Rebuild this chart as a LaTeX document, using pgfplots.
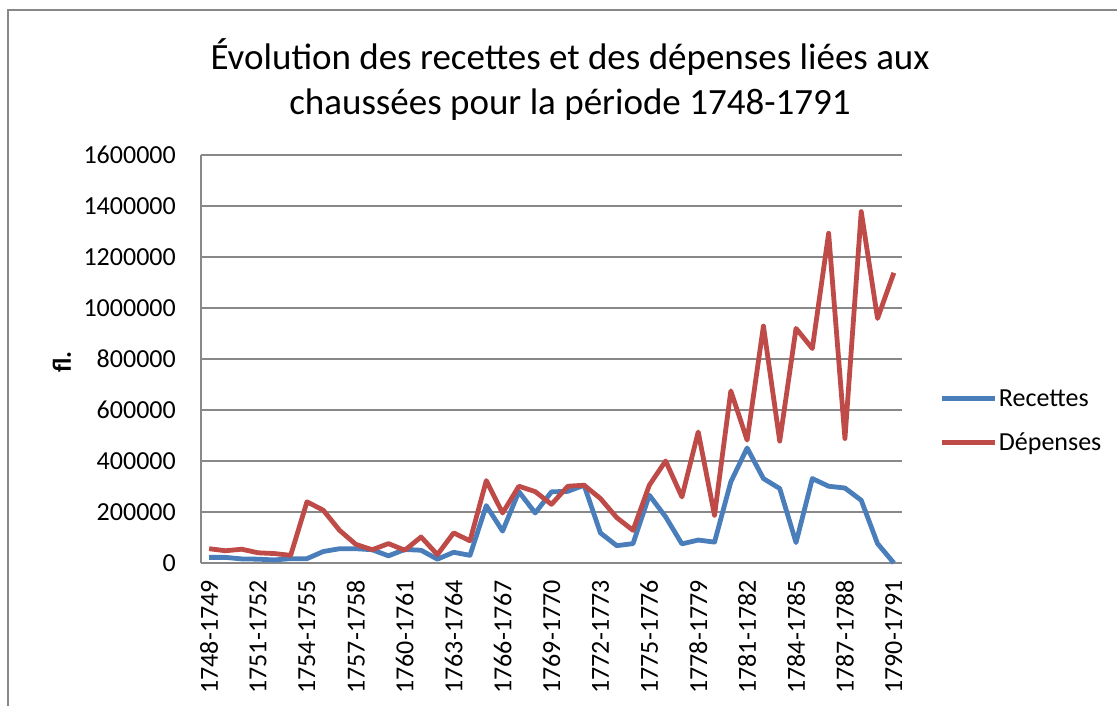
\documentclass[border=0pt]{standalone}
\usepackage{pgfplots}
\pgfplotsset{compat=1.18}
\usepackage{fontspec}
\setmainfont{Carlito}
\definecolor{recblue}{HTML}{4A7EBB}
\definecolor{depred}{HTML}{BE4B48}
\definecolor{gridgray}{HTML}{888888}
\pgfplotstableread{
x rec dep
0 22000 56000
1 22000 48000
2 16000 54000
3 15000 40000
4 12000 37000
5 17000 30000
6 17000 240000
7 45000 207000
8 56000 128000
9 56000 73000
10 52000 52000
11 28000 76000
12 53000 50000
13 50000 102000
14 15000 33000
15 42000 118000
16 30000 87000
17 225000 323000
18 125000 196000
19 280000 301000
20 196000 280000
21 279000 230000
22 281000 301000
23 305000 305000
24 118000 253000
25 68000 178000
26 76000 128000
27 266000 305000
28 181000 400000
29 75000 259000
30 90000 514000
31 82000 187000
32 318000 675000
33 451000 482000
34 331000 929000
35 292000 478000
36 80000 920000
37 331000 841000
38 301000 1293000
39 294000 488000
40 246000 1378000
41 76000 959000
42 0 1138000
}\datatable
\begin{document}
\begin{tikzpicture}
\useasboundingbox (0pt,0pt) rectangle (1117pt,706pt);
\draw[gridgray, line width=1.2pt] (8pt,-20pt) -- (8pt,696pt) -- (1130pt,696pt);
\node[anchor=base, font=\fontsize{37}{45}\selectfont] at (570pt,636pt) {Évolution des recettes et des dépenses liées aux};
\node[anchor=base, font=\fontsize{37}{45}\selectfont] at (570pt,591pt) {chaussées pour la période 1748-1791};
\begin{axis}[
  at={(201pt,143pt)}, anchor=south west,
  scale only axis, width=701pt, height=408pt,
  xmin=-0.5, xmax=42.5, ymin=0, ymax=1600000,
  axis x line*=bottom, axis y line*=left,
  axis line style={draw=gridgray, line width=1.5pt, -},
  major tick length=0pt,
  ytick={0,200000,...,1600000},
  ymajorgrids, grid style={draw=gridgray, line width=1.5pt},
  scaled y ticks=false,
  yticklabel style={/pgf/number format/1000 sep={}, /pgf/number format/fixed, inner sep=0pt, anchor=east, xshift=-25pt, font=\fontsize{26}{31}\selectfont},
  /pgf/number format/assume math mode=true,
  xtick={0,3,...,42},
  xticklabels={1748-1749,1751-1752,1754-1755,1757-1758,1760-1761,1763-1764,1766-1767,1769-1770,1772-1773,1775-1776,1778-1779,1781-1782,1784-1785,1787-1788,1790-1791},
  xticklabel style={yshift=-17pt, rotate=90, anchor=east, inner sep=0pt, font=\fontsize{26}{31}\selectfont},
  ylabel={\bfseries fl.},
  every axis y label/.style={at={(axis description cs:0,0.5)}, xshift=-139pt, yshift=-3pt, anchor=center, rotate=90, font=\fontsize{26}{31}\selectfont},
  legend style={at={(rel axis cs:1.053,0.348)}, anchor=west, draw=none, fill=none, inner sep=0pt, outer sep=0pt,
    row sep=25pt, font=\fontsize{26}{31}\selectfont,
    nodes={inner sep=0pt}},
  legend cell align=left,
  /tikz/every odd column/.append style={column sep=2pt},
  legend image code/.code={\draw[#1] (0pt,0pt) -- (53pt,0pt);},
  clip=false,
]
\addplot[recblue, line width=4.8pt, line join=round, no marks] table[x=x, y=rec] {\datatable};
\addlegendentry{Recettes}
\addplot[depred, line width=4.8pt, line join=round, no marks] table[x=x, y=dep] {\datatable};
\addlegendentry{Dépenses}
\end{axis}
\end{tikzpicture}
\end{document}
